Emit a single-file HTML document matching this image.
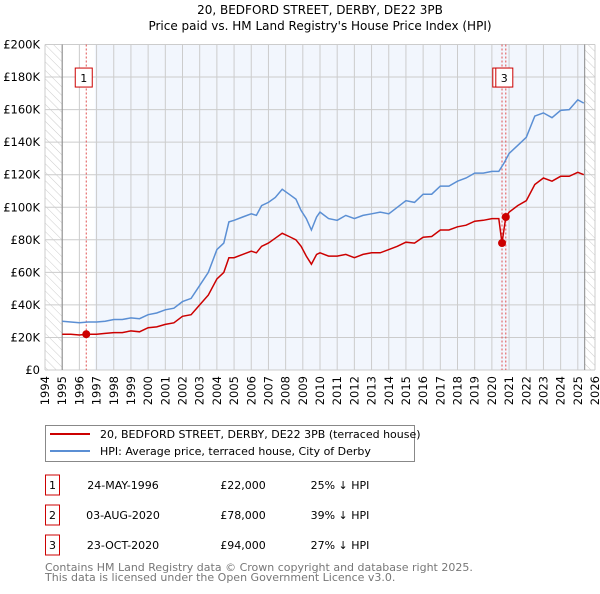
<!DOCTYPE html>
<html><head><meta charset="utf-8"><style>
body{margin:0;background:#fff;width:600px;height:590px;overflow:hidden;font-family:"DejaVu Sans","Liberation Sans",sans-serif}
svg text{font-family:"DejaVu Sans","Liberation Sans",sans-serif}
</style></head><body>
<svg id="c" width="600" height="590" viewBox="0 0 600 590">
<defs><pattern id="hatch" width="6" height="6" patternUnits="userSpaceOnUse" patternTransform="rotate(-45)"><line x1="0" y1="0" x2="0" y2="6" stroke="#ccc" stroke-width="1"/></pattern></defs>
<text x="320" y="14" text-anchor="middle" font-size="12">20, BEDFORD STREET, DERBY, DE22 3PB</text>
<text x="320" y="30" text-anchor="middle" font-size="12">Price paid vs. HM Land Registry's House Price Index (HPI)</text>
<g id="plot"></g>
<g>
<rect x="45.5" y="425.5" width="369" height="36" fill="#fff" stroke="#888"/>
<line x1="50" y1="434" x2="90" y2="434" stroke="#cc0000" stroke-width="2"/>
<text x="100" y="438" font-size="11">20, BEDFORD STREET, DERBY, DE22 3PB (terraced house)</text>
<line x1="50" y1="451" x2="90" y2="451" stroke="#5b8fd4" stroke-width="2"/>
<text x="100" y="455" font-size="11">HPI: Average price, terraced house, City of Derby</text>
</g>
<g id="table" font-size="11"></g>
<text x="45" y="571" font-size="11" fill="#777">Contains HM Land Registry data © Crown copyright and database right 2025.</text>
<text x="45" y="581" font-size="11" fill="#777">This data is licensed under the Open Government Licence v3.0.</text>
</svg>
<script>
const hpiYears=[1995,1995.5,1996,1996.5,1997,1997.5,1998,1998.5,1999,1999.5,2000,2000.5,2001,2001.5,2002,2002.5,2003,2003.5,2004,2004.4,2004.7,2005,2005.5,2006,2006.3,2006.6,2007,2007.4,2007.8,2008.2,2008.6,2008.9,2009.2,2009.5,2009.8,2010,2010.5,2011,2011.5,2012,2012.5,2013,2013.5,2014,2014.5,2015,2015.5,2016,2016.5,2017,2017.5,2018,2018.5,2019,2019.5,2020,2020.4,2020.7,2021,2021.5,2022,2022.5,2023,2023.5,2024,2024.5,2025,2025.35];
const hpiValues=[30,29.5,29,29.5,29.5,30,31,31,32,31.5,34,35,37,38,42,44,52,60,74,78,91,92,94,96,95,101,103,106,111,108,105,98,93,86,94,97,93,92,95,93,95,96,97,96,100,104,103,108,108,113,113,116,118,121,121,122,122,127,133,138,143,156,158,155,159.5,160,166,164];
const ppYears=[1995,1995.5,1996,1996.4,1997,1997.5,1998,1998.5,1999,1999.5,2000,2000.5,2001,2001.5,2002,2002.5,2003,2003.5,2004,2004.4,2004.7,2005,2005.5,2006,2006.3,2006.6,2007,2007.4,2007.8,2008.2,2008.6,2008.9,2009.2,2009.5,2009.8,2010,2010.5,2011,2011.5,2012,2012.5,2013,2013.5,2014,2014.5,2015,2015.5,2016,2016.5,2017,2017.5,2018,2018.5,2019,2019.5,2020,2020.4,2020.59,2020.81,2021,2021.5,2022,2022.5,2023,2023.5,2024,2024.5,2025,2025.35];
const ppValues=[22,22,21.5,22,22,22.5,23,23,24,23.5,26,26.5,28,29,33,34,40,46,56,60,69,69,71,73,72,76,78,81,84,82,80,76,70,65,71,72,70,70,71,69,71,72,72,74,76,78.5,78,81.6,82,86,86,88,89,91.4,92,93,93,78,94,97,101,104,114,118,116,119,119,121.5,120];
const sales=[{n:'1',date:'24-MAY-1996',price:'£22,000',pct:'25% ↓ HPI',t:1996.4,v:22},{n:'2',date:'03-AUG-2020',price:'£78,000',pct:'39% ↓ HPI',t:2020.59,v:78},{n:'3',date:'23-OCT-2020',price:'£94,000',pct:'27% ↓ HPI',t:2020.81,v:94}];
const yTicks=[0,20,40,60,80,100,120,140,160,180,200];
const xTicks=[];for(let y=1994;y<=2026;y++)xTicks.push(y);

const L=45,R=595,T=44.5,B=370;
const x=t=>L+(t-1994)/32*(R-L);
const y=v=>B-v/200*(B-T);
const NS='http://www.w3.org/2000/svg';
const g=document.getElementById('plot');
function mk(tag,attrs,parent){const e=document.createElementNS(NS,tag);for(const k in attrs)e.setAttribute(k,attrs[k]);(parent||g).appendChild(e);return e;}

let e=mk('rect',{x:x(1996.9),y:T,width:x(2025.4)-x(1996.9),height:B-T,fill:'#f2f6fd'});

e=mk('rect',{x:L,y:T,width:x(1995)-L,height:B-T,fill:'url(#hatch)'});

e=mk('rect',{x:x(2025.4),y:T,width:R-x(2025.4),height:B-T,fill:'url(#hatch)'});


xTicks.forEach(t=>{
 let l=mk('line',{x1:x(t),x2:x(t),y1:T,y2:B,stroke:'#ccc','stroke-width':1});
 
 let tx=mk('text',{x:0,y:0,'font-size':11.5,'text-anchor':'end',transform:`translate(${x(t)+4},${B+6}) rotate(-90)`});
 tx.textContent=t;
 
});
yTicks.forEach(v=>{
 let l=mk('line',{x1:L,x2:R,y1:y(v),y2:y(v),stroke:'#ccc','stroke-width':1});
 
 let tx=mk('text',{x:L-5,y:y(v)+4,'font-size':11.5,'text-anchor':'end'});
 tx.textContent=v===0?'£0':'£'+v+'K';
 
});
e=mk('line',{x1:x(1995),x2:x(1995),y1:T,y2:B,stroke:'#888'});

e=mk('line',{x1:x(2025.4),x2:x(2025.4),y1:T,y2:B,stroke:'#888'});


sales.forEach(s=>{
 let l=mk('line',{x1:x(s.t),x2:x(s.t),y1:T,y2:B,stroke:'#e05050','stroke-dasharray':'2,2','stroke-width':1});
 
});

const path=(xs,vs)=>xs.map((t,i)=>(i?'L':'M')+x(t).toFixed(1)+','+y(vs[i]).toFixed(1)).join('');
e=mk('path',{d:path(hpiYears,hpiValues),fill:'none',stroke:'#5b8fd4','stroke-width':1.5});

e=mk('path',{d:path(ppYears,ppValues),fill:'none',stroke:'#cc0000','stroke-width':1.5});


sales.forEach(s=>{
 let c=mk('circle',{cx:x(s.t),cy:y(s.v),r:4,fill:'#cc0000'});
 
});
[[sales[0],0],[sales[1],-3],[sales[2],0]].forEach(([s,off])=>{
 const bx=(s.n==='1'?x(s.t)-11:x(2020.81)-10)+off;
 let r=mk('rect',{x:bx,y:y(180)-9,width:17,height:19,fill:'#fff',stroke:'#cc0000'});
 
 let t=mk('text',{x:bx+8.5,y:y(180)+5,'font-size':11,'text-anchor':'middle'});
 t.textContent=s.n;
 
});

const tb=document.getElementById('table');
sales.forEach((s,i)=>{
 const cy=485+i*30;
 let r=mk('rect',{x:45.5,y:cy-10,width:14,height:20,fill:'#fff',stroke:'#cc0000'},tb);
 
 const cells=[[52.5,s.n,'middle','badge-number'],[123,s.date,'middle','sale-date'],[243,s.price,'middle','sale-price'],[340,s.pct,'middle','hpi-diff']];
 cells.forEach(([cx,txt,a,nm])=>{
  let t=mk('text',{x:cx,y:cy+4,'text-anchor':a},tb);t.textContent=txt;
  
 });
});
</script>
</body></html>
